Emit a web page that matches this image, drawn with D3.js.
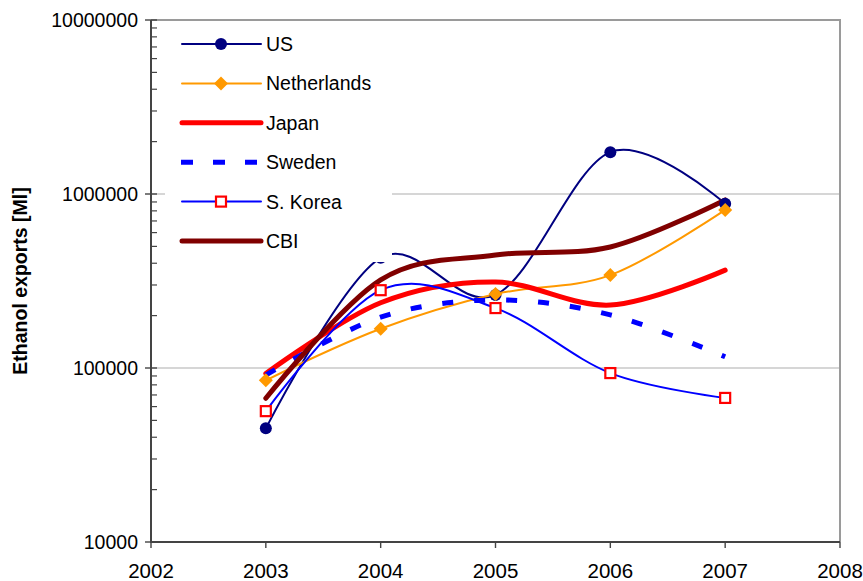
<!DOCTYPE html>
<html>
<head>
<meta charset="utf-8">
<script src="https://cdn.jsdelivr.net/npm/d3@7"></script>
<style>
  html, body { margin: 0; padding: 0; background: #fff; }
  svg { display: block; font-family: "Liberation Sans", Arial, sans-serif; }
</style>
</head>
<body>
<svg id="chart" width="863" height="581"></svg>
<script>
// Ethanol exports by country, 2003-2007 (log scale)
const years = [2003, 2004, 2005, 2006, 2007];
const us = [45000, 430000, 263000, 1740000, 880000];
const netherlands = [85000, 168000, 266000, 342000, 810000];
const japan = [93000, 237000, 312000, 230000, 365000];
const sweden = [91000, 196000, 246000, 202000, 116000];
const sKorea = [56500, 280000, 221000, 93500, 67300];
const cbi = [67000, 321000, 446000, 496000, 925000];

const xTicks = [2002, 2003, 2004, 2005, 2006, 2007, 2008];
const yTicks = [10000, 100000, 1000000, 10000000];
const yTitle = "Ethanol exports [Ml]";

const series = [
  { name: "US", values: us, color: "#000080", width: 2, marker: "circle" },
  { name: "Netherlands", values: netherlands, color: "#FF9900", width: 2, marker: "diamond" },
  { name: "Japan", values: japan, color: "#FF0000", width: 5, marker: null },
  { name: "Sweden", values: sweden, color: "#0000FF", width: 5, marker: null, dash: "11,21" },
  { name: "S. Korea", values: sKorea, color: "#0000FF", width: 2, marker: "square" },
  { name: "CBI", values: cbi, color: "#800000", width: 5, marker: null }
];

const svg = d3.select("#chart");
const plotLeft = 151, plotRight = 840, plotTop = 20, plotBottom = 542;

const x = d3.scaleLinear().domain([2002, 2008]).range([plotLeft, plotRight]);
const y = d3.scaleLog().domain([10000, 10000000]).range([plotBottom, plotTop]);

// horizontal gridlines at each decade
svg.append("g").selectAll("line")
  .data(yTicks.slice(1, -1))
  .join("line")
  .attr("x1", plotLeft).attr("x2", plotRight)
  .attr("y1", d => y(d)).attr("y2", d => y(d))
  .attr("stroke", "#c8c8c8").attr("stroke-width", 1.5);

// plot frame: top and right edges
svg.append("path")
  .attr("d", `M${plotLeft},${plotTop}H${plotRight}V${plotBottom}`)
  .attr("fill", "none").attr("stroke", "#9a9a9a").attr("stroke-width", 2);

// y axis with minor ticks
const minor = [];
for (let e = 4; e < 7; e++) for (let m = 2; m <= 9; m++) minor.push(m * Math.pow(10, e));
const yAxis = svg.append("g");
yAxis.selectAll("line.minor").data(minor).join("line")
  .attr("class", "minor")
  .attr("x1", plotLeft).attr("x2", plotLeft + 6)
  .attr("y1", d => y(d)).attr("y2", d => y(d))
  .attr("stroke", "#444").attr("stroke-width", 1.2);
yAxis.selectAll("line.major").data(yTicks).join("line")
  .attr("class", "major")
  .attr("x1", plotLeft - 6).attr("x2", plotLeft + 6)
  .attr("y1", d => y(d)).attr("y2", d => y(d))
  .attr("stroke", "#444").attr("stroke-width", 1.4);
yAxis.selectAll("text").data(yTicks).join("text")
  .attr("x", plotLeft - 13).attr("y", d => y(d))
  .attr("dy", "0.36em")
  .attr("text-anchor", "end")
  .attr("font-size", 19.5)
  .attr("fill", "#000")
  .text(d => d3.format("d")(d));

// x axis
const xAxis = svg.append("g");
xAxis.selectAll("line").data(xTicks).join("line")
  .attr("x1", d => x(d)).attr("x2", d => x(d))
  .attr("y1", plotBottom).attr("y2", plotBottom + 6)
  .attr("stroke", "#444").attr("stroke-width", 1.4);
xAxis.selectAll("text").data(xTicks).join("text")
  .attr("x", d => x(d)).attr("y", 578)
  .attr("text-anchor", "middle")
  .attr("font-size", 20.5)
  .attr("fill", "#000")
  .text(d => d);

// axis lines
svg.append("path")
  .attr("d", `M${plotLeft},${plotTop}V${plotBottom}H${plotRight}`)
  .attr("fill", "none").attr("stroke", "#444").attr("stroke-width", 2);

// y axis title
svg.append("text")
  .attr("transform", `translate(27,${(plotTop + plotBottom) / 2}) rotate(-90)`)
  .attr("text-anchor", "middle")
  .attr("font-size", 19.5)
  .attr("font-weight", "bold")
  .text(yTitle);

// series lines
const line = d3.line()
  .x((d, i) => x(years[i]))
  .y(d => y(d))
  .curve(d3.curveCardinal.tension(0));

const plot = svg.append("g");
series.forEach(s => {
  plot.append("path")
    .datum(s.values)
    .attr("d", line)
    .attr("fill", "none")
    .attr("stroke", s.color)
    .attr("stroke-width", s.width)
    .attr("stroke-linecap", s.dash ? "butt" : "round")
    .attr("stroke-dasharray", s.dash || null);
});

function drawMarker(g, type, cx, cy, color) {
  if (type === "circle") {
    g.append("circle").attr("cx", cx).attr("cy", cy).attr("r", 6).attr("fill", color);
  } else if (type === "diamond") {
    g.append("path")
      .attr("d", `M${cx},${cy - 7}L${cx + 7},${cy}L${cx},${cy + 7}L${cx - 7},${cy}Z`)
      .attr("fill", color);
  } else if (type === "square") {
    g.append("rect").attr("x", cx - 5).attr("y", cy - 5).attr("width", 10).attr("height", 10)
      .attr("fill", "#fff").attr("stroke", "#FF0000").attr("stroke-width", 2.2);
  }
}

series.filter(s => s.marker).forEach(s => {
  s.values.forEach((v, i) => drawMarker(plot, s.marker, x(years[i]), y(v), s.color));
});

// legend
const legend = svg.append("g");
legend.append("rect")
  .attr("x", 165).attr("y", 23).attr("width", 227).attr("height", 239)
  .attr("fill", "#fff");
series.forEach((s, i) => {
  const ly = 44 + i * 39.4;
  legend.append("line")
    .attr("x1", s.dash ? 181 : 182).attr("x2", 261)
    .attr("y1", ly).attr("y2", ly)
    .attr("stroke", s.color)
    .attr("stroke-width", s.width)
    .attr("stroke-linecap", s.dash ? "butt" : "round")
    .attr("stroke-dasharray", s.dash ? "12,20" : null);
  if (s.marker) drawMarker(legend, s.marker, 221, ly, s.color);
  legend.append("text")
    .attr("x", 266).attr("y", ly)
    .attr("dy", "0.36em")
    .attr("font-size", 19.5)
    .text(s.name);
});
</script>
</body>
</html>
